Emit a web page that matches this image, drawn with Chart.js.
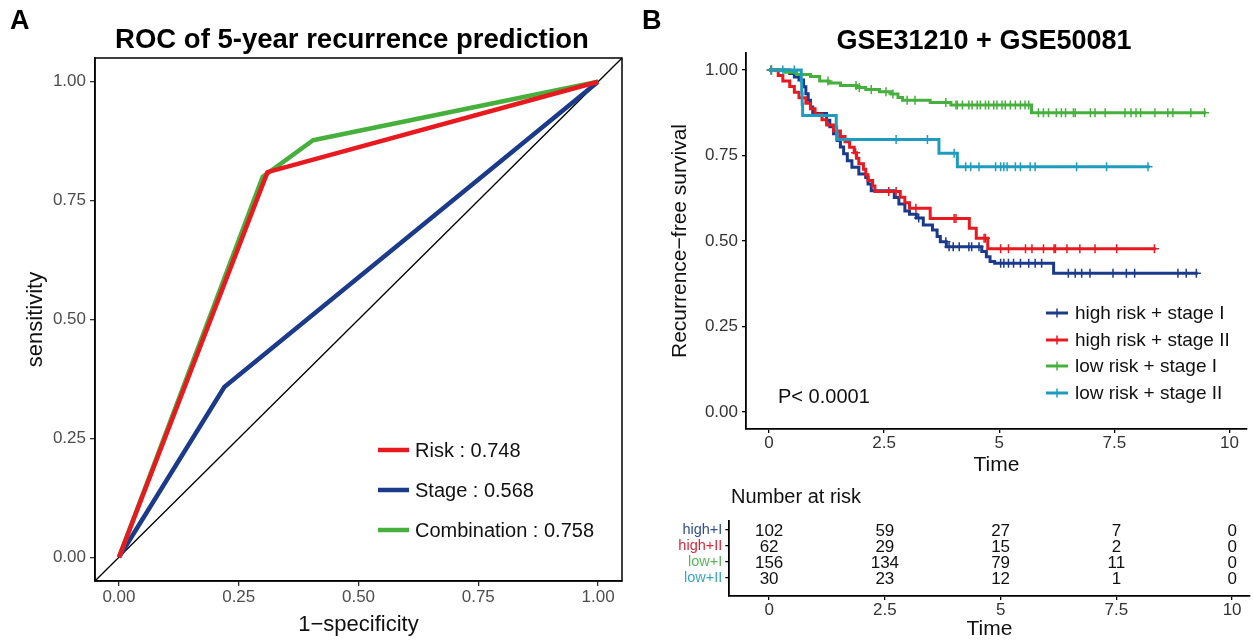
<!DOCTYPE html>
<html><head><meta charset="utf-8">
<script src="https://cdn.jsdelivr.net/npm/chart.js@4.4.1/dist/chart.umd.min.js"></script>
<style>
html,body{margin:0;padding:0;background:#fff;overflow:hidden;width:1253px;height:642px;position:relative}
canvas{position:absolute}
</style></head><body>
<canvas id="cA" width="640" height="642" style="left:0;top:0"></canvas>
<canvas id="cB" width="613" height="480" style="left:640px;top:0"></canvas>
<canvas id="cT" width="613" height="162" style="left:640px;top:480px"></canvas>
<script>
// ---------------- DATA ----------------
// Panel A: ROC
const rocTicks = [0, 0.25, 0.5, 0.75, 1];
const rocRiskX = [0, 0.31, 1];
const rocRiskY = [0, 0.81, 1];
const rocStageX = [0, 0.22, 1];
const rocStageY = [0, 0.358, 1];
const rocCombX = [0, 0.30, 0.405, 1];
const rocCombY = [0, 0.80, 0.877, 1];
const rocDiag = [-0.05, 1.05];
const rocLabels = ['Risk : 0.748', 'Stage : 0.568', 'Combination : 0.758'];

// Panel B: Kaplan-Meier
const timeTicks = [0, 2.5, 5, 7.5, 10];
const survTicks = [0, 0.25, 0.5, 0.75, 1];
const groupNames = ['high risk + stage I', 'high risk + stage II', 'low risk + stage I', 'low risk + stage II'];
const rowLabels = ['high+I', 'high+II', 'low+I', 'low+II'];

const highIT = [0, 0.45, 0.55, 0.65, 0.75, 0.8, 0.85, 0.9, 0.95, 1.25, 1.32, 1.4, 1.48, 1.55, 1.62, 1.7, 1.8, 1.95, 2.1, 2.15, 2.22, 2.72, 2.82, 2.95, 3.05, 3.2, 3.35, 3.55, 3.65, 3.72, 3.85, 4.62, 4.72, 4.8, 4.9, 6.18, 9.31];
const highIS = [1, 0.990, 0.980, 0.971, 0.951, 0.931, 0.912, 0.892, 0.873, 0.853, 0.834, 0.814, 0.794, 0.775, 0.755, 0.735, 0.716, 0.696, 0.686, 0.667, 0.647, 0.627, 0.608, 0.588, 0.578, 0.567, 0.547, 0.532, 0.513, 0.498, 0.483, 0.469, 0.454, 0.440, 0.435, 0.406, 0.406];
const highICens = [0.05, 3.25, 3.84, 3.91, 4.0, 4.13, 4.34, 4.4, 4.56, 5.03, 5.1, 5.2, 5.31, 5.46, 5.64, 5.78, 5.92, 6.5, 6.65, 6.79, 6.97, 7.47, 7.76, 7.94, 8.88, 9.06, 9.28];

const highIIT = [0, 0.2, 0.3, 0.45, 0.55, 0.65, 0.8, 0.9, 1.0, 1.15, 1.25, 1.4, 1.55, 1.65, 1.75, 1.85, 1.9, 1.95, 2.05, 2.1, 2.15, 2.25, 2.3, 2.85, 2.95, 3.05, 3.5, 4.35, 4.5, 4.75, 8.4];
const highIIS = [1, 0.984, 0.968, 0.952, 0.935, 0.919, 0.903, 0.887, 0.871, 0.855, 0.839, 0.822, 0.806, 0.790, 0.774, 0.758, 0.742, 0.726, 0.710, 0.694, 0.677, 0.661, 0.645, 0.628, 0.612, 0.596, 0.566, 0.537, 0.508, 0.477, 0.477];
const highIICens = [0.05, 1.88, 2.6, 2.76, 3.19, 4.02, 4.06, 4.67, 4.70, 5.03, 5.2, 5.57, 5.71, 5.96, 6.19, 6.22, 6.47, 6.75, 7.08, 7.55, 8.37];

const lowIT = [0, 0.35, 0.6, 0.9, 1.1, 1.3, 1.55, 1.9, 2.1, 2.4, 2.65, 2.8, 2.9, 3.5, 3.95, 5.7, 9.49];
const lowIS = [1, 0.994, 0.987, 0.981, 0.968, 0.962, 0.955, 0.949, 0.943, 0.937, 0.930, 0.920, 0.912, 0.905, 0.898, 0.875, 0.875];
const lowICens = [0.05, 1.28, 1.89, 1.96, 2.22, 2.54, 2.69, 3.0, 3.17, 3.84, 4.06, 4.09, 4.2, 4.34, 4.41, 4.52, 4.59, 4.7, 4.77, 4.88, 4.95, 5.06, 5.13, 5.24, 5.35, 5.46, 5.56, 5.64, 5.85, 5.96, 6.07, 6.24, 6.35, 6.44, 6.61, 6.65, 6.98, 7.08, 7.3, 7.73, 7.86, 7.97, 8.07, 8.38, 8.66, 8.77, 9.16, 9.46];

const lowIIT = [0, 0.7, 0.71, 0.72, 0.73, 1.46, 1.47, 3.69, 4.09, 8.27];
const lowIIS = [1, 0.967, 0.933, 0.900, 0.867, 0.833, 0.797, 0.757, 0.717, 0.717];
const lowIICens = [0.05, 0.3, 0.55, 2.76, 3.44, 4.02, 4.27, 4.38, 4.56, 4.92, 5.03, 5.1, 5.17, 5.35, 5.46, 5.67, 5.78, 6.68, 7.33, 8.23];

// Number at risk table
const riskTimes = [0, 2.5, 5, 7.5, 10];
const riskHighI = [102, 59, 27, 7, 0];
const riskHighII = [62, 29, 15, 2, 0];
const riskLowI = [156, 134, 79, 11, 0];
const riskLowII = [30, 23, 12, 1, 0];

// ---------------- STYLE ----------------
const FONT = '"Liberation Sans", Arial, Helvetica, sans-serif';
Chart.defaults.font.family = FONT;
const C_RED = '#e8191f', C_BLUE = '#1b3a8c', C_GREEN = '#46b03c', C_TEAL = '#1e9cc0';
const rocColors = [C_RED, C_BLUE, C_GREEN];
const kmColors = [C_BLUE, C_RED, C_GREEN, C_TEAL];
const rowColors = ['#2f4f8f', '#d62a3c', '#5cb35a', '#3aa5c5'];

function zip(xs, ys) { return xs.map((x, i) => ({x: x, y: ys[i]})); }
function survAt(T, S, t) { let v = S[0]; for (let i = 0; i < T.length; i++) { if (T[i] <= t) v = S[i]; else break; } return v; }
function fixedTicks(arr) { return s => { s.ticks = arr.map(v => ({value: v})); }; }

// ---------------- PANEL A ----------------
const decorA = {
  id: 'decorA',
  afterDraw(chart) {
    const ctx = chart.ctx, a = chart.chartArea;
    ctx.save();
    ctx.strokeStyle = '#000'; ctx.lineWidth = 1.5;
    ctx.strokeRect(a.left, a.top, a.right - a.left, a.bottom - a.top);
    ctx.fillStyle = '#000';
    ctx.font = 'bold 27px ' + FONT; ctx.textBaseline = 'middle'; ctx.textAlign = 'left';
    ctx.fillText('A', 10, 22);
    ctx.font = 'bold 27.5px ' + FONT; ctx.textAlign = 'center';
    ctx.fillText('ROC of 5-year recurrence prediction', 352, 40);
    // legend
    const ys = [450, 490, 530];
    ctx.font = '20px ' + FONT; ctx.textAlign = 'left';
    for (let i = 0; i < 3; i++) {
      ctx.strokeStyle = rocColors[i]; ctx.lineWidth = 4.5;
      ctx.beginPath(); ctx.moveTo(378, ys[i]); ctx.lineTo(409, ys[i]); ctx.stroke();
      ctx.fillStyle = '#111';
      ctx.fillText(rocLabels[i], 415, ys[i] + 1);
    }
    ctx.restore();
  }
};

new Chart(document.getElementById('cA'), {
  type: 'line',
  data: { datasets: [
    {label: rocLabels[0], data: zip(rocRiskX, rocRiskY), borderColor: C_RED, borderWidth: 4.5, pointRadius: 0, borderJoinStyle: 'round'},
    {label: rocLabels[2], data: zip(rocCombX, rocCombY), borderColor: C_GREEN, borderWidth: 4.5, pointRadius: 0, borderJoinStyle: 'round'},
    {label: rocLabels[1], data: zip(rocStageX, rocStageY), borderColor: C_BLUE, borderWidth: 4.5, pointRadius: 0, borderJoinStyle: 'round'},
    {label: 'reference', data: zip(rocDiag, rocDiag), borderColor: '#000', borderWidth: 1.3, pointRadius: 0}
  ]},
  options: {
    responsive: false, animation: false, devicePixelRatio: 1,
    layout: {padding: {left: 0, top: 58, right: 18, bottom: 0}},
    plugins: {legend: {display: false}, tooltip: {enabled: false}},
    scales: {
      x: {type: 'linear', min: -0.05, max: 1.05, afterBuildTicks: fixedTicks(rocTicks), afterFit: s => { s.height = 61; },
        ticks: {callback: v => Number(v).toFixed(2), color: '#4d4d4d', font: {size: 17}, padding: 1, maxRotation: 0, autoSkip: false},
        grid: {drawOnChartArea: false, tickLength: 5, color: '#333', lineWidth: 1.3},
        border: {color: '#000', width: 1.5},
        title: {display: true, text: '1−specificity', color: '#111', font: {size: 22}, padding: {top: 0, bottom: 4}}},
      y: {type: 'linear', min: -0.05, max: 1.05, afterBuildTicks: fixedTicks(rocTicks), afterFit: s => { s.width = 95; },
        ticks: {callback: v => Number(v).toFixed(2), color: '#4d4d4d', font: {size: 17}, padding: 4, autoSkip: false},
        grid: {drawOnChartArea: false, tickLength: 5, color: '#333', lineWidth: 1.3},
        border: {color: '#000', width: 1.5},
        title: {display: true, text: 'sensitivity', color: '#111', font: {size: 22}, padding: {top: 23, bottom: 0}}}
    }
  },
  plugins: [decorA]
});

// ---------------- PANEL B: KM ----------------
const kmT = [highIT, highIIT, lowIT, lowIIT];
const kmS = [highIS, highIIS, lowIS, lowIIS];
const kmC = [highICens, highIICens, lowICens, lowIICens];
const kmSets = [];
[3, 2, 1, 0].forEach(g => {
  kmSets.push({type: 'scatter', label: groupNames[g] + ' censored', data: kmC[g].map(t => ({x: t, y: survAt(kmT[g], kmS[g], t)})),
    pointStyle: 'cross', pointRadius: 4.5, pointBorderWidth: 1.5, borderColor: kmColors[g], backgroundColor: kmColors[g], showLine: false});
  kmSets.push({type: 'line', label: groupNames[g], data: zip(kmT[g], kmS[g]), stepped: true,
    borderColor: kmColors[g], borderWidth: 3, pointRadius: 0, fill: false});
});

const decorB = {
  id: 'decorB',
  afterDraw(chart) {
    const ctx = chart.ctx;
    ctx.save();
    ctx.fillStyle = '#000'; ctx.textBaseline = 'middle';
    ctx.font = 'bold 27px ' + FONT; ctx.textAlign = 'left';
    ctx.fillText('B', 2, 22);
    ctx.font = 'bold 27px ' + FONT; ctx.textAlign = 'center';
    ctx.fillText('GSE31210 + GSE50081', 344, 42);
    ctx.font = '20px ' + FONT; ctx.textAlign = 'left'; ctx.fillStyle = '#111';
    ctx.fillText('P< 0.0001', 138, 397);
    const ys = [313, 340, 366, 393];
    ctx.font = '19px ' + FONT;
    for (let i = 0; i < 4; i++) {
      ctx.strokeStyle = kmColors[i]; ctx.lineWidth = 3;
      ctx.beginPath(); ctx.moveTo(406, ys[i]); ctx.lineTo(428, ys[i]); ctx.stroke();
      ctx.lineWidth = 1.5;
      ctx.beginPath(); ctx.moveTo(417, ys[i] - 4.5); ctx.lineTo(417, ys[i] + 4.5); ctx.stroke();
      ctx.fillStyle = '#111';
      ctx.fillText(groupNames[i], 435, ys[i] + 1);
    }
    ctx.restore();
  }
};

new Chart(document.getElementById('cB'), {
  type: 'line',
  data: {datasets: kmSets},
  options: {
    responsive: false, animation: false, devicePixelRatio: 1,
    layout: {padding: {left: 0, top: 53, right: 3.3, bottom: 0}},
    plugins: {legend: {display: false}, tooltip: {enabled: false}},
    scales: {
      x: {type: 'linear', min: -0.5, max: 10.38, afterBuildTicks: fixedTicks(timeTicks), afterFit: s => { s.height = 51; },
        ticks: {callback: v => String(v), color: '#333', font: {size: 17}, padding: 0, maxRotation: 0, autoSkip: false},
        grid: {drawOnChartArea: false, tickLength: 4, color: '#000', lineWidth: 1.3},
        border: {color: '#000', width: 1.8},
        title: {display: true, text: 'Time', color: '#111', font: {size: 21}, padding: {top: 0, bottom: 2}}},
      y: {type: 'linear', min: -0.05, max: 1.05, afterBuildTicks: fixedTicks(survTicks), afterFit: s => { s.width = 106; },
        ticks: {callback: v => Number(v).toFixed(2), color: '#333', font: {size: 17}, padding: 4, autoSkip: false},
        grid: {drawOnChartArea: false, tickLength: 4, color: '#000', lineWidth: 1.3},
        border: {color: '#000', width: 1.8},
        title: {display: true, text: 'Recurrence−free survival', color: '#111', font: {size: 21}, padding: {top: 28, bottom: 0}}}
    }
  },
  plugins: [decorB]
});

// ---------------- PANEL B: risk table ----------------
const riskRows = [riskHighI, riskHighII, riskLowI, riskLowII];
const rowPos = [4, 3, 2, 1];
const decorT = {
  id: 'decorT',
  afterDraw(chart) {
    const ctx = chart.ctx, xs = chart.scales.x, ys = chart.scales.y;
    ctx.save();
    ctx.fillStyle = '#111'; ctx.textBaseline = 'middle';
    ctx.font = '20px ' + FONT; ctx.textAlign = 'left';
    ctx.fillText('Number at risk', 91, 17);
    ctx.font = '17px ' + FONT; ctx.textAlign = 'center';
    riskRows.forEach((row, r) => {
      row.forEach((n, j) => {
        ctx.fillText(String(n), xs.getPixelForValue(riskTimes[j]), ys.getPixelForValue(rowPos[r]) + 1);
      });
    });
    ctx.restore();
  }
};

new Chart(document.getElementById('cT'), {
  type: 'scatter',
  data: {datasets: []},
  options: {
    responsive: false, animation: false, devicePixelRatio: 1,
    layout: {padding: {left: 0, top: 40.4, right: 3.3, bottom: 0}},
    plugins: {legend: {display: false}, tooltip: {enabled: false}},
    scales: {
      x: {type: 'linear', min: -0.86, max: 10.38, afterBuildTicks: fixedTicks(timeTicks), afterFit: s => { s.height = 46; },
        ticks: {callback: v => String(v), color: '#333', font: {size: 17}, padding: 0, maxRotation: 0, autoSkip: false},
        grid: {drawOnChartArea: false, tickLength: 4, color: '#000', lineWidth: 1.3},
        border: {color: '#000', width: 1.8},
        title: {display: true, text: 'Time', color: '#111', font: {size: 21}, padding: {top: 0, bottom: 0}}},
      y: {type: 'linear', min: -0.125, max: 4.6, afterBuildTicks: fixedTicks(rowPos), afterFit: s => { s.width = 89.3; },
        ticks: {callback: v => rowLabels[rowPos.indexOf(v)], color: c => rowColors[rowPos.indexOf(c.tick.value)], font: {size: 14.5}, padding: 3, autoSkip: false},
        grid: {drawOnChartArea: false, tickLength: 4, color: '#000', lineWidth: 1.3},
        border: {color: '#000', width: 1.8}}
    }
  },
  plugins: [decorT]
});
</script></body></html>
